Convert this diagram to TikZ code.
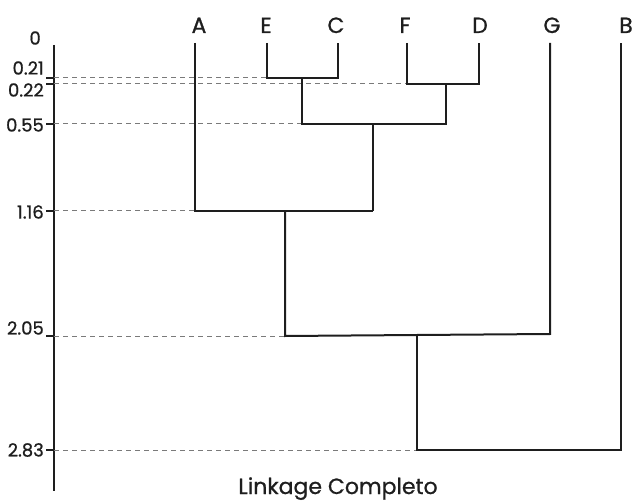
\documentclass[tikz,border=0pt]{standalone}
\usepackage{fontspec}
\setmainfont{Poppins}[UprightFeatures={FakeBold=0.8}]
\definecolor{ink}{HTML}{1E1E1E}
\definecolor{dashgray}{HTML}{7A7A7A}
\begin{document}
\begin{tikzpicture}[x=1pt,y=-1pt,
  tree/.style={draw=ink,line width=2pt,line join=miter},
  guide/.style={draw=dashgray,line width=1pt,dash pattern=on 5pt off 4pt},
  axisline/.style={draw=ink,line width=1.2pt},
  leaf/.style={font=\fontsize{22}{26}\selectfont,text=ink,anchor=base,inner sep=0pt},
  ticklab/.style={font=\fontsize{18}{21}\selectfont,text=ink,anchor=east,inner sep=0pt},
  titlelab/.style={font=\fontsize{22}{26}\selectfont,text=ink,anchor=base,inner sep=0pt}]
\useasboundingbox (0,0) rectangle (634,502);
% leaf labels
\node[leaf] (A) at (199,33) {A};
\node[leaf] (E) at (266,33) {E};
\node[leaf] (C) at (336,33) {C};
\node[leaf] (F) at (405,33) {F};
\node[leaf] (D) at (480,33) {D};
\node[leaf] (G) at (552,33) {G};
\node[leaf] (B) at (626,33) {B};
% leaf tops
\coordinate (tA) at (195,43);
\coordinate (tE) at (267,43);
\coordinate (tC) at (338,43);
\coordinate (tF) at (407,43);
\coordinate (tD) at (479,43);
\coordinate (tG) at (550,43);
\coordinate (tB) at (621,43);
% merge points
\coordinate (ec) at (302,78);
\coordinate (ecE) at (267,78);
\coordinate (fd) at (446,84);
\coordinate (fdF) at (407,84);
\coordinate (ecb) at (302,124);
\coordinate (fdb) at (446,124);
\coordinate (ecfd) at (373,124);
\coordinate (ecfdb) at (373,211);
\coordinate (aA) at (195,211);
\coordinate (am) at (285,211);
\coordinate (amb) at (285,336);
\coordinate (gG) at (550,334);
\coordinate (gm) at (417,335);
\coordinate (gmb) at (417,450);
\coordinate (bB) at (621,450);
% axis
\coordinate (ax0) at (54,45);
\coordinate (axE) at (54,491);
\coordinate (k21) at (54,78);
\coordinate (k22) at (54,84);
\coordinate (k55) at (54,124);
\coordinate (k116) at (54,211);
\coordinate (k205) at (54,336);
\coordinate (k283) at (54,450);
\draw[axisline] (ax0) -- (axE);
\foreach \k in {k21,k22,k55,k116,k205,k283}
  \draw[axisline] (\k) -- ++(-8,0);
% guide lines
\draw[guide] (k21) -- (ecE);
\draw[guide] (k22) -- (fdF);
\draw[guide] (k55) -- (ecb);
\draw[guide] (k116) -- (aA);
\draw[guide] (k205) -- (amb);
\draw[guide] (k283) -- (gmb);
% tree
\draw[tree] (tE) |- (ec) -| (tC);
\draw[tree] (tF) |- (fd) -| (tD);
\draw[tree] (ec) -- (ecb) -- (fdb) -- (fd);
\draw[tree] (ecfd) -- (ecfdb);
\draw[tree] (tA) -- (aA) -- (ecfdb);
\draw[tree] (am) -- (amb) -- (gm) -- (gG) -- (tG);
\draw[tree] (gm) -- (gmb) -- (bB) -- (tB);
% tick labels
\node[ticklab] (l0) at (41,38) {0};
\node[ticklab] (l21) at (44,68) {0.21};
\node[ticklab] (l22) at (44,90) {0.22};
\node[ticklab] (l55) at (44,125) {0.55};
\node[ticklab] (l116) at (44,212) {1.16};
\node[ticklab] (l205) at (44,328) {2.05};
\node[ticklab] (l283) at (44,450) {2.83};
% title
\node[titlelab] (title) at (338,494) {Linkage Completo};
\end{tikzpicture}
\end{document}
